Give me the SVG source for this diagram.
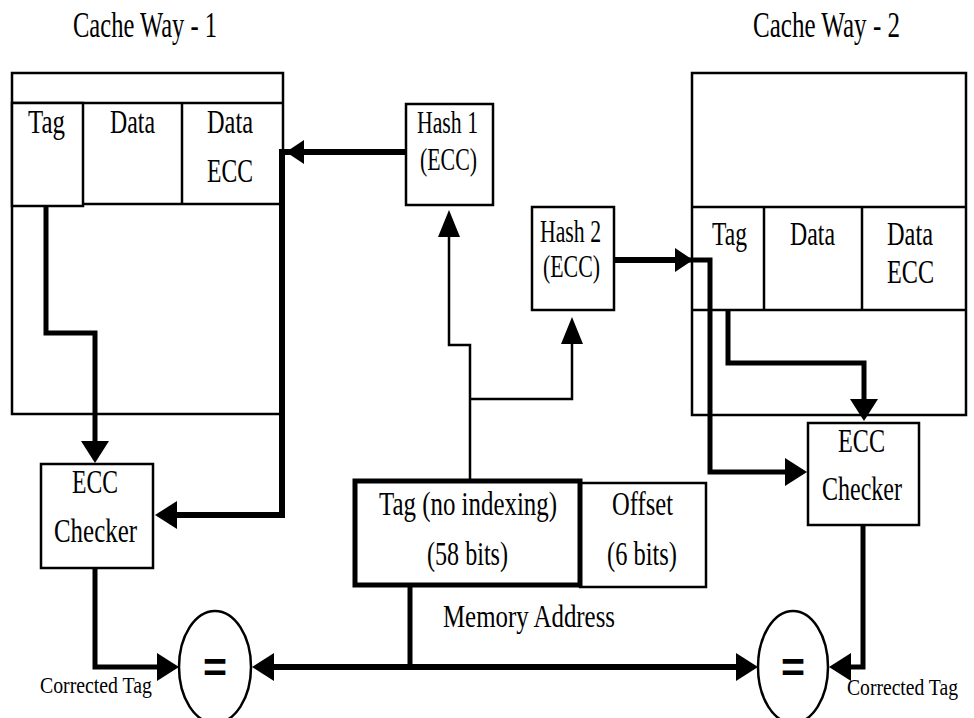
<svg xmlns="http://www.w3.org/2000/svg" width="974" height="718" viewBox="0 0 974 718">
<style>
  .box{fill:#fff;stroke:#000;stroke-width:2.5}
  .ln{fill:none;stroke:#000;stroke-width:2.5}
  .tk{fill:none;stroke:#000;stroke-width:6}
  .tk5{fill:none;stroke:#000;stroke-width:5}
  text{font-family:"Liberation Serif","Times New Roman",serif;fill:#000;font-size:32px;text-anchor:start}
  .t{font-size:35px}
  .c{font-size:34px}
  .s{font-size:24px}
  .eq{font-family:"Liberation Sans",Arial,sans-serif;font-weight:bold;font-size:42px}
</style>
<defs>
  <marker id="big" markerUnits="userSpaceOnUse" viewBox="0 -15 23 30" markerWidth="23" markerHeight="30" refX="0" refY="0" orient="auto"><path d="M0,-14 L22,0 L0,14 z" fill="#000"/></marker>
  <marker id="mid" markerUnits="userSpaceOnUse" viewBox="0 -13 19 26" markerWidth="19" markerHeight="26" refX="0" refY="0" orient="auto"><path d="M0,-12 L18,0 L0,12 z" fill="#000"/></marker>
  <marker id="sml" markerUnits="userSpaceOnUse" viewBox="0 -12 28 24" markerWidth="28" markerHeight="24" refX="0" refY="0" orient="auto"><path d="M0,-11 L27,0 L0,11 z" fill="#000"/></marker>
</defs>

<g id="title1"><text class="t" x="73" y="37" textLength="144" lengthAdjust="spacingAndGlyphs">Cache Way - 1</text></g>
<g id="title2"><text class="t" x="753" y="37" textLength="147" lengthAdjust="spacingAndGlyphs">Cache Way - 2</text></g>

<g id="cacheWay1">
  <rect class="box" x="12" y="73" width="271" height="341"/>
  <line class="ln" x1="12" y1="103" x2="283" y2="103"/>
  <rect class="box" x="12" y="103" width="71" height="103"/>
  <line class="ln" x1="83" y1="204" x2="283" y2="204"/>
  <line class="ln" x1="182" y1="103" x2="182" y2="204"/>
  <text class="c" x="28" y="133" textLength="37" lengthAdjust="spacingAndGlyphs">Tag</text>
  <text class="c" x="110" y="133" textLength="45" lengthAdjust="spacingAndGlyphs">Data</text>
  <text class="c" x="207" y="133" textLength="46" lengthAdjust="spacingAndGlyphs">Data</text>
  <text class="c" x="207" y="182" textLength="46" lengthAdjust="spacingAndGlyphs">ECC</text>
</g>

<g id="cacheWay2">
  <rect class="box" x="692" y="73" width="274" height="342"/>
  <line class="ln" x1="692" y1="207" x2="966" y2="207"/>
  <line class="ln" x1="692" y1="310" x2="966" y2="310"/>
  <line class="ln" x1="764" y1="207" x2="764" y2="310"/>
  <line class="ln" x1="862" y1="207" x2="862" y2="310"/>
  <text class="c" x="712" y="245" textLength="35" lengthAdjust="spacingAndGlyphs">Tag</text>
  <text class="c" x="790" y="245" textLength="45" lengthAdjust="spacingAndGlyphs">Data</text>
  <text class="c" x="887" y="245" textLength="46" lengthAdjust="spacingAndGlyphs">Data</text>
  <text class="c" x="887" y="283" textLength="47" lengthAdjust="spacingAndGlyphs">ECC</text>
</g>

<g id="hash1">
  <rect class="box" x="406" y="104" width="87" height="101"/>
  <text x="417" y="133" textLength="61" lengthAdjust="spacingAndGlyphs">Hash 1</text>
  <text x="420" y="170" textLength="57" lengthAdjust="spacingAndGlyphs">(ECC)</text>
</g>

<g id="hash2">
  <rect class="box" x="532" y="207" width="82" height="103"/>
  <text x="540" y="242" textLength="61" lengthAdjust="spacingAndGlyphs">Hash 2</text>
  <text x="543" y="277" textLength="57" lengthAdjust="spacingAndGlyphs">(ECC)</text>
</g>

<g id="eccChecker1">
  <rect class="box" x="41" y="464" width="112" height="104"/>
  <text class="c" x="72" y="493" textLength="46" lengthAdjust="spacingAndGlyphs">ECC</text>
  <text class="c" x="54" y="542" textLength="83" lengthAdjust="spacingAndGlyphs">Checker</text>
</g>

<g id="eccChecker2">
  <rect class="box" x="808" y="423" width="111" height="102"/>
  <text class="c" x="838" y="452" textLength="47" lengthAdjust="spacingAndGlyphs">ECC</text>
  <text class="c" x="822" y="500" textLength="80" lengthAdjust="spacingAndGlyphs">Checker</text>
</g>

<g id="memoryAddress">
  <rect class="box" x="580" y="483" width="126" height="104"/>
  <rect x="355" y="481" width="225" height="104" fill="#fff" stroke="#000" stroke-width="5"/>
  <text class="c" x="379" y="515" textLength="178" lengthAdjust="spacingAndGlyphs">Tag (no indexing)</text>
  <text class="c" x="427" y="565" textLength="81" lengthAdjust="spacingAndGlyphs">(58 bits)</text>
  <text class="c" x="612" y="515" textLength="61" lengthAdjust="spacingAndGlyphs">Offset</text>
  <text class="c" x="607" y="565" textLength="70" lengthAdjust="spacingAndGlyphs">(6 bits)</text>
  <text x="443" y="627" textLength="172" lengthAdjust="spacingAndGlyphs">Memory Address</text>
</g>

<g id="compare1">
  <ellipse class="box" cx="215" cy="667" rx="36" ry="56"/>
  <text class="eq" x="203" y="682" textLength="24" lengthAdjust="spacingAndGlyphs">=</text>
</g>

<g id="compare2">
  <ellipse class="box" cx="793" cy="667" rx="35" ry="56"/>
  <text class="eq" x="781" y="682" textLength="24" lengthAdjust="spacingAndGlyphs">=</text>
</g>

<g id="labels">
  <text class="s" x="40" y="693" textLength="112" lengthAdjust="spacingAndGlyphs">Corrected Tag</text>
  <text class="s" x="847" y="695" textLength="111" lengthAdjust="spacingAndGlyphs">Corrected Tag</text>
</g>

<g id="connectors">
  <path class="tk" d="M406,152 H282 V515 H177" marker-end="url(#big)"/>
  <path class="tk" d="M330,152 H304" marker-end="url(#mid)"/>
  <path class="tk5" d="M46,206 V333 H95 V441" marker-end="url(#big)"/>
  <path class="tk5" d="M95,568 V667 H157" marker-end="url(#big)"/>
  <path class="tk5" d="M410,585 V667"/>
  <path class="tk" d="M412,667 H274" marker-end="url(#big)"/>
  <path class="tk" d="M408,667 H736" marker-end="url(#big)"/>
  <path class="ln" d="M470,481 V345 H449 V237" marker-end="url(#sml)"/>
  <path class="ln" d="M470,399 H572 V344" marker-end="url(#sml)"/>
  <path class="tk" d="M614,260 H675" marker-end="url(#mid)"/>
  <path class="tk5" d="M675,260 H710 V472 H785" marker-end="url(#big)"/>
  <path class="tk5" d="M728,310 V363 H864 V399" marker-end="url(#big)"/>
  <path class="tk5" d="M863,525 V667 H851" marker-end="url(#big)"/>
</g>
</svg>
